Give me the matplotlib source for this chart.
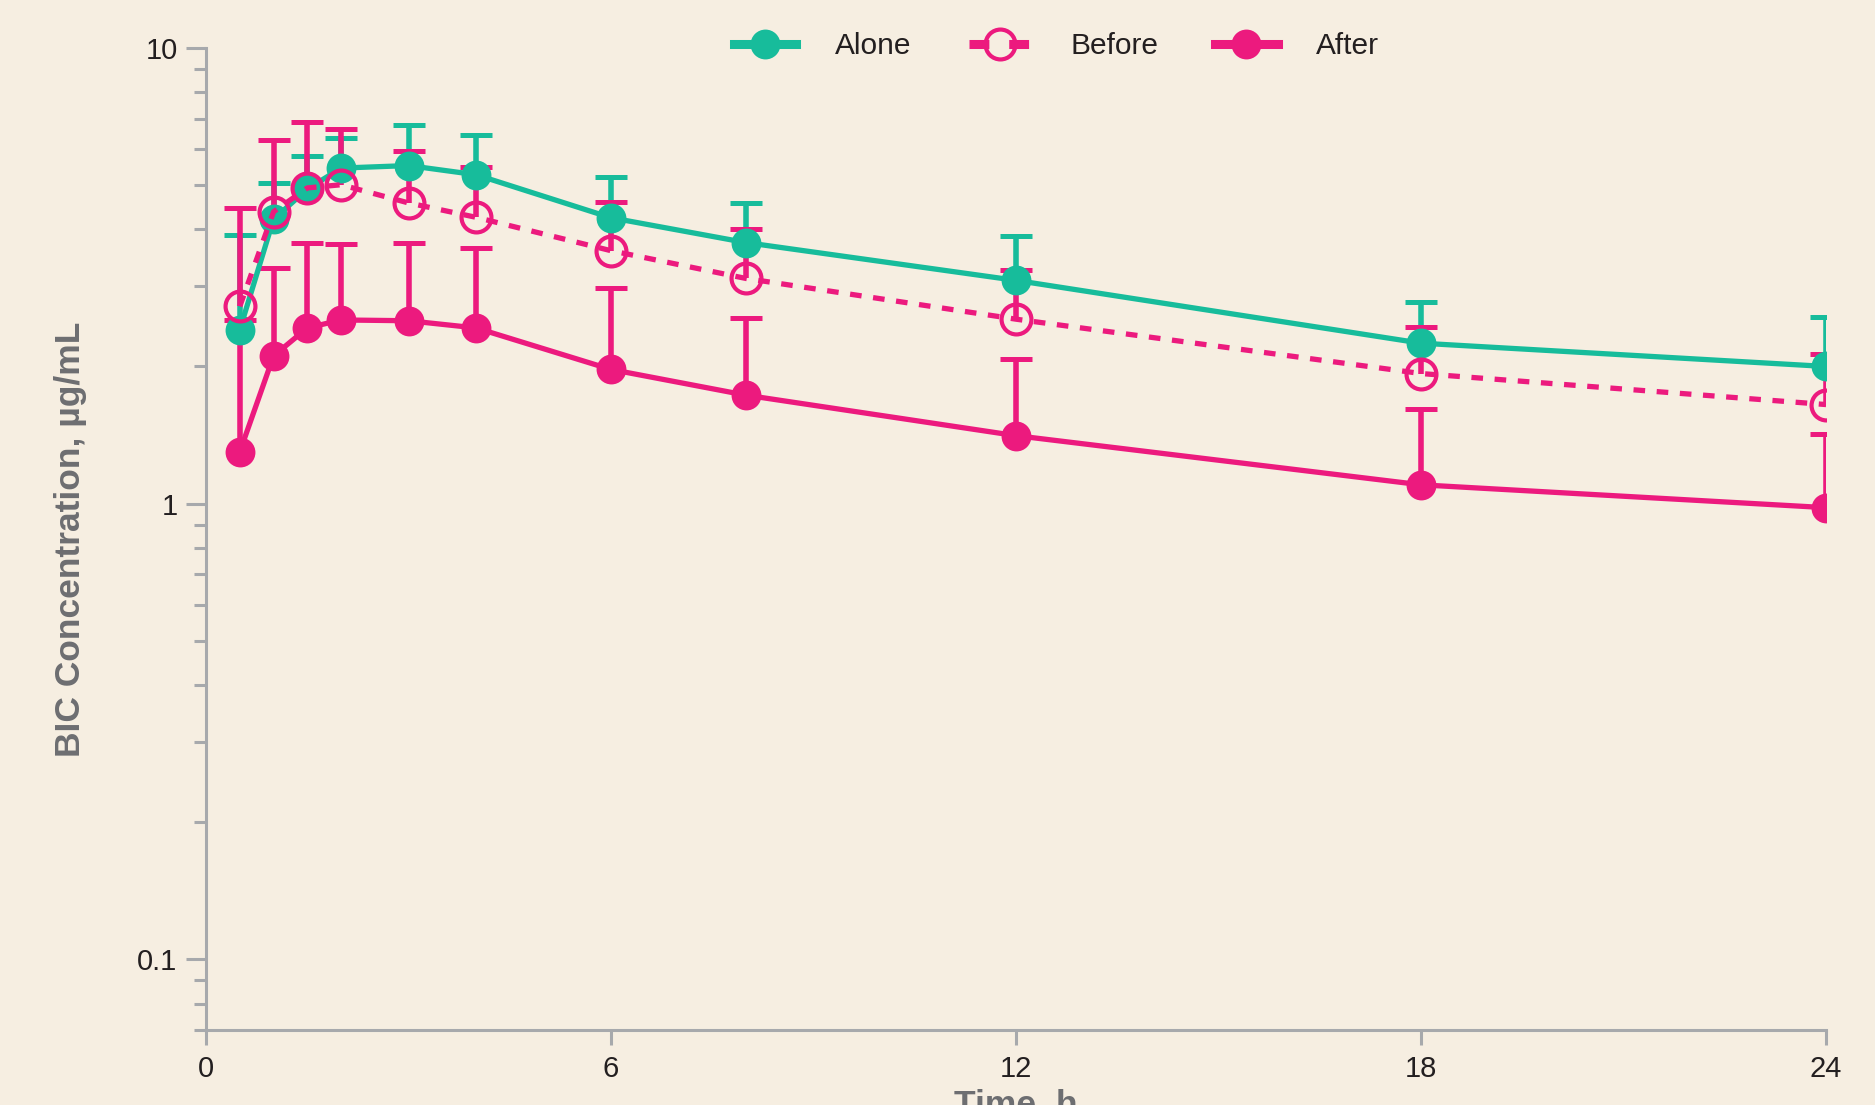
import matplotlib
matplotlib.use("Agg")
import matplotlib.pyplot as plt
import numpy as np
from matplotlib.ticker import FixedLocator, FixedFormatter, LogLocator, NullFormatter

# BIC plasma concentration, mean and mean + SD (µg/mL)
time_h = [0.5, 1, 1.5, 2, 3, 4, 6, 8, 12, 18, 24]
alone_mean = [2.41, 4.21, 4.90, 5.45, 5.52, 5.27, 4.24, 3.74, 3.09, 2.25, 2.00]
alone_upper = [3.89, 5.05, 5.78, 6.35, 6.79, 6.45, 5.20, 4.57, 3.86, 2.77, 2.57]
before_mean = [2.71, 4.37, 4.93, 5.01, 4.57, 4.25, 3.59, 3.12, 2.54, 1.93, 1.65]
before_upper = [4.46, 6.29, 6.88, 6.64, 5.93, 5.47, 4.59, 4.00, 3.26, 2.44, 2.13]
after_mean = [1.30, 2.11, 2.43, 2.53, 2.52, 2.43, 1.97, 1.73, 1.41, 1.10, 0.98]
after_upper = [2.53, 3.29, 3.74, 3.71, 3.73, 3.64, 2.97, 2.56, 2.08, 1.61, 1.42]

x_ticks = [0, 6, 12, 18, 24]
y_ticks = [0.1, 1, 10]
y_tick_labels = ["0.1", "1", "10"]

BG = "#F6EEE1"
TEAL = "#17BC9B"
PINK = "#EC1A7E"
AXIS = "#A7A9AC"
TEXT = "#231F20"
LABEL = "#6D6E71"

plt.rcParams["font.family"] = ["Liberation Sans", "DejaVu Sans"]

fig = plt.figure(figsize=(18.75, 11.05), dpi=100, facecolor=BG)
ax = fig.add_axes([0.1099, 0.0679, 0.864, 0.8887])
ax.set_facecolor(BG)


def draw_series(mean, upper, color, ls, filled):
    mean = np.array(mean)
    err = [np.zeros_like(mean), np.array(upper) - mean]
    cont = ax.errorbar(time_h, mean, yerr=err, marker="o", ms=21.5,
                       color=color, lw=3.8, ls=ls, ecolor=color,
                       elinewidth=4.0, capsize=11.5, capthick=3.6)
    line, caps, bars = cont
    if filled:
        line.set_markerfacecolor(color)
        line.set_markeredgewidth(0)
    else:
        line.set_markerfacecolor("none")
        line.set_markeredgecolor(color)
        line.set_markeredgewidth(3.0)
    # caps: first is at the mean, second at mean + SD
    caps[0].set_visible(False)
    caps[1].set_markeredgewidth(3.6)
    caps[1].set_markersize(23)
    caps[1].set_color(color)
    return line


h_alone = draw_series(alone_mean, alone_upper, TEAL, "-", True)
h_before = draw_series(before_mean, before_upper, PINK, (0, (2.2, 2.2)), False)
h_after = draw_series(after_mean, after_upper, PINK, "-", True)

ax.set_yscale("log")
ax.set_ylim(0.07, 10)
ax.set_xlim(0, 24)

ax.yaxis.set_major_locator(FixedLocator(y_ticks))
ax.yaxis.set_major_formatter(FixedFormatter(y_tick_labels))
ax.yaxis.set_minor_locator(LogLocator(base=10, subs=np.arange(2, 10)))
ax.yaxis.set_minor_formatter(NullFormatter())
ax.set_xticks(x_ticks)

for side in ["top", "right"]:
    ax.spines[side].set_visible(False)
for side in ["left", "bottom"]:
    ax.spines[side].set_color(AXIS)
    ax.spines[side].set_linewidth(2.2)

ax.tick_params(axis="y", which="major", length=14.5, width=2.2, color=AXIS,
               labelsize=21, labelcolor=TEXT, pad=6)
ax.tick_params(axis="y", which="minor", length=8.5, width=2.2, color=AXIS)
ax.tick_params(axis="x", which="major", length=11, width=2.2, color=AXIS,
               labelsize=21, labelcolor=TEXT, pad=7)

ax.set_ylabel("BIC Concentration, µg/mL", fontsize=25.5, fontweight="bold",
              color=LABEL, labelpad=36)
ax.set_xlabel("Time, h", fontsize=25.5, fontweight="bold", color=LABEL,
              labelpad=4)

leg = ax.legend([h_alone, h_before, h_after], ["Alone", "Before", "After"],
                loc="center", bbox_to_anchor=(0.525, 1.002), ncol=3,
                frameon=False, fontsize=21.5, handlelength=2.1,
                handletextpad=1.3, columnspacing=1.9)
for line in leg.get_lines():
    line.set_linewidth(6.5)
for t in leg.get_texts():
    t.set_color(TEXT)

fig.savefig("out.png", dpi=100, facecolor=BG)
